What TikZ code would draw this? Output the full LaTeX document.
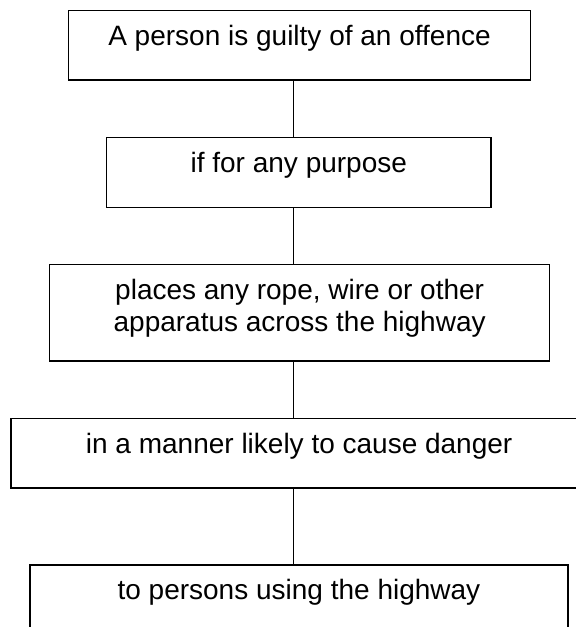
\documentclass[tikz,border=0pt]{standalone}
\usepackage{fontspec}
\setmainfont{Liberation Sans}
\begin{document}
\begin{tikzpicture}[x=1pt,y=-1pt,
  box/.style={draw=black, line width=1.3pt, inner sep=0pt, anchor=north west},
  txt/.style={font=\fontsize{28}{32}\selectfont, inner sep=0pt, anchor=base},
  link/.style={draw=black, line width=1pt}]
\useasboundingbox (0,0) rectangle (576,627);
\fill[white] (0,0) rectangle (576,627);
\clip (0,0) rectangle (576,627);
% boxes
\node[box, minimum width=461.7pt, minimum height=69.6pt] (b1) at (68,9.7) {};
\node[box, minimum width=384.3pt, minimum height=70pt]   (b2) at (106,136.7) {};
\node[box, minimum width=500pt,   minimum height=96.3pt] (b3) at (49,264) {};
\node[box, minimum width=576.4pt, minimum height=69.6pt] (b4) at (10.3,417.7) {};
\node[box, minimum width=538pt,   minimum height=70pt]   (b5) at (29.3,564.3) {};
% texts
\node[txt] (t1)  at ([yshift=-35.3pt]b1.north) {A person is guilty of an offence};
\node[txt] (t2)  at ([yshift=-35.3pt]b2.north) {if for any purpose};
\node[txt] (t3a) at ([yshift=-35.3pt]b3.north) {places any rope, wire or other};
\node[txt] (t3b) at ([yshift=-67.3pt]b3.north) {apparatus across the highway};
\node[txt] (t4)  at ([yshift=-35.3pt]b4.north) {in a manner likely to cause danger};
\node[txt] (t5)  at ([yshift=-35.3pt]b5.north) {to persons using the highway};
% connectors
\coordinate (spine) at (293.2,0);
\draw[link] (b1.south -| spine) -- (b2.north -| spine);
\draw[link] (b2.south -| spine) -- (b3.north -| spine);
\draw[link] (b3.south -| spine) -- (b4.north -| spine);
\draw[link] (b4.south -| spine) -- (b5.north -| spine);
\end{tikzpicture}
\end{document}
